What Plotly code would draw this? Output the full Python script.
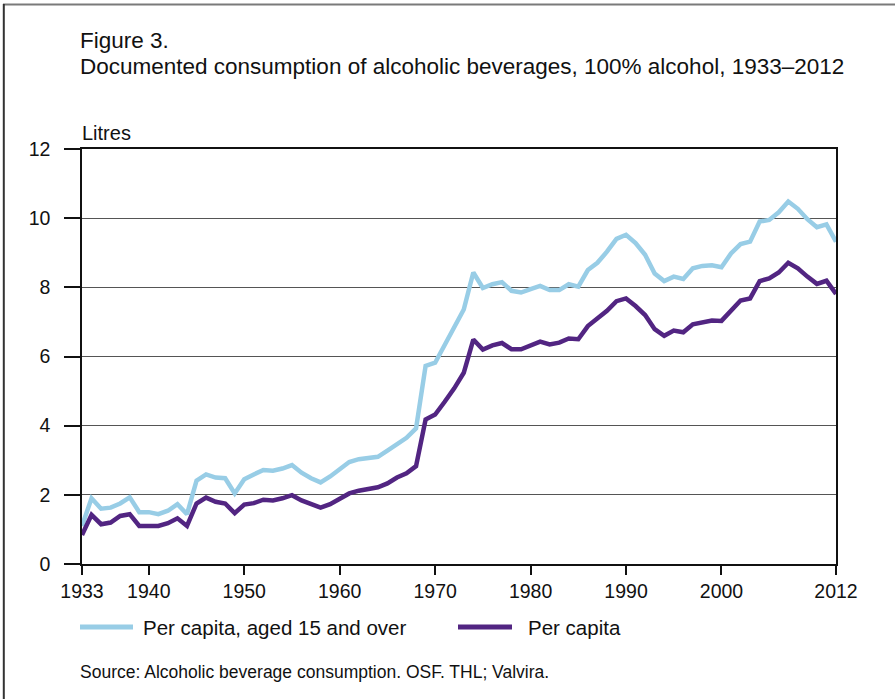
import plotly.graph_objects as go

years = list(range(1933, 2013))

aged15_over = [
    1.10, 1.90, 1.60, 1.63, 1.75, 1.93, 1.50, 1.50, 1.44, 1.54,   # 1933-1942
    1.73, 1.44, 2.41, 2.59, 2.50, 2.48, 2.04, 2.45, 2.59, 2.72,   # 1943-1952
    2.70, 2.76, 2.86, 2.64, 2.48, 2.36, 2.53, 2.76, 2.95, 3.03,   # 1953-1962
    3.06, 3.10, 3.28, 3.46, 3.65, 3.92, 5.73, 5.82, 6.33, 6.81,   # 1963-1972
    7.36, 8.43, 7.98, 8.09, 8.15, 7.90, 7.85, 7.95, 8.04, 7.92,   # 1973-1982
    7.92, 8.09, 8.02, 8.50, 8.71, 9.03, 9.40, 9.52, 9.28, 8.94,   # 1983-1992
    8.40, 8.18, 8.31, 8.24, 8.55, 8.62, 8.64, 8.58, 8.98, 9.25,   # 1993-2002
    9.32, 9.90, 9.95, 10.17, 10.48, 10.27, 9.97, 9.74, 9.82, 9.32 # 2003-2012
]

per_capita = [
    0.84, 1.42, 1.15, 1.20, 1.39, 1.44, 1.10, 1.10, 1.10, 1.18,   # 1933-1942
    1.32, 1.10, 1.75, 1.92, 1.80, 1.75, 1.47, 1.72, 1.76, 1.86,   # 1943-1952
    1.84, 1.90, 1.99, 1.84, 1.73, 1.63, 1.73, 1.87, 2.04, 2.12,   # 1953-1962
    2.18, 2.22, 2.33, 2.50, 2.62, 2.83, 4.18, 4.32, 4.69, 5.08,   # 1963-1972
    5.53, 6.49, 6.20, 6.32, 6.39, 6.21, 6.21, 6.33, 6.43, 6.35,   # 1973-1982
    6.40, 6.52, 6.50, 6.88, 7.08, 7.32, 7.60, 7.68, 7.46, 7.20,   # 1983-1992
    6.79, 6.60, 6.75, 6.70, 6.93, 6.99, 7.04, 7.03, 7.33, 7.62,   # 1993-2002
    7.68, 8.18, 8.26, 8.43, 8.71, 8.55, 8.31, 8.10, 8.19, 7.81    # 2003-2012
]

x_tickvals = [1933, 1940, 1950, 1960, 1970, 1980, 1990, 2000, 2012]
y_tickvals = [0, 2, 4, 6, 8, 10, 12]

series_names = ["Per capita, aged 15 and over", "Per capita"]
colors = ["#98cde6", "#522582"]

title_line1 = "Figure 3."
title_line2 = "Documented consumption of alcoholic beverages, 100% alcohol, 1933–2012"
y_unit = "Litres"
source_text = "Source: Alcoholic beverage consumption. OSF. THL; Valvira."

FONT = "Liberation Sans, Arial, Helvetica, sans-serif"

W, H = 895, 699
L, R, T, B = 82, 59, 149, 135
pw, ph = W - L - R, H - T - B

def px(xp):
    return (xp - L) / pw

def py(yp):
    return (H - B - yp) / ph

fig = go.Figure()
for name, vals, col in zip(series_names, [aged15_over, per_capita], colors):
    fig.add_trace(go.Scatter(
        x=years, y=vals, mode="lines", name=name,
        line=dict(color=col, width=4.5), showlegend=False,
    ))

shapes = []
annotations = []

# outer frame (top and left)
shapes.append(dict(type="line", xref="paper", yref="paper",
                   x0=px(3), x1=px(895), y0=py(4.5), y1=py(4.5),
                   line=dict(color="#7a7a7a", width=2)))
shapes.append(dict(type="line", xref="paper", yref="paper",
                   x0=px(3.8), x1=px(3.8), y0=py(4), y1=py(699),
                   line=dict(color="#333333", width=2)))

# manual legend
leg_y = py(627)
leg_items = [(80, 133, 141), (458, 512, 526)]
for (x0, x1, tx), name, col in zip(leg_items, series_names, colors):
    shapes.append(dict(type="line", xref="paper", yref="paper",
                       x0=px(x0), x1=px(x1), y0=leg_y, y1=leg_y,
                       line=dict(color=col, width=5)))
    annotations.append(dict(xref="paper", yref="paper", x=px(tx), y=leg_y,
                            xanchor="left", yanchor="middle", showarrow=False,
                            text=name, font=dict(family=FONT, size=20.5, color="#111")))

annotations += [
    dict(xref="paper", yref="paper", x=px(78), y=py(41), xanchor="left", yanchor="middle",
         showarrow=False, text=title_line1, font=dict(family=FONT, size=22.5, color="#111")),
    dict(xref="paper", yref="paper", x=px(78), y=py(66), xanchor="left", yanchor="middle",
         showarrow=False, text=title_line2, font=dict(family=FONT, size=22.5, color="#111")),
    dict(xref="paper", yref="paper", x=px(80), y=py(133), xanchor="left", yanchor="middle",
         showarrow=False, text=y_unit, font=dict(family=FONT, size=20, color="#111")),
    dict(xref="paper", yref="paper", x=px(78), y=py(672), xanchor="left", yanchor="middle",
         showarrow=False, text=source_text, font=dict(family=FONT, size=17.5, color="#111")),
]

fig.update_layout(
    width=W, height=H,
    margin=dict(l=L, r=R, t=T, b=B, pad=0),
    paper_bgcolor="white", plot_bgcolor="white",
    font=dict(family=FONT, size=19, color="#111"),
    shapes=shapes, annotations=annotations,
    xaxis=dict(range=[1933, 2012], tickvals=x_tickvals, ticks="outside", ticklen=9,
               tickwidth=1.5, tickcolor="#111", showline=True, linecolor="#111", linewidth=1.5,
               mirror=True, showgrid=False, zeroline=False,
               tickfont=dict(family=FONT, size=19.5, color="#111")),
    yaxis=dict(range=[0, 12], tickvals=y_tickvals, ticks="outside", ticklen=16,
               tickwidth=1.5, tickcolor="#111", showline=True, linecolor="#111", linewidth=1.5,
               mirror=True, showgrid=True, gridcolor="#555555", gridwidth=1.2, zeroline=False,
               ticklabelstandoff=10,
               tickfont=dict(family=FONT, size=19.5, color="#111")),
)

fig.write_html("out.html", config={"displayModeBar": False},
               post_script="document.body.style.margin='0px';")
